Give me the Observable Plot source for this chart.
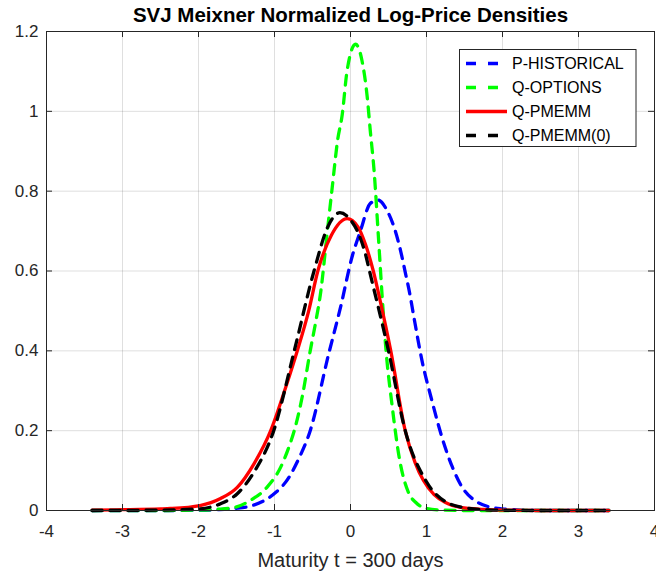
<!DOCTYPE html>
<html><head><meta charset="utf-8">
<script src="https://cdn.jsdelivr.net/npm/d3@7"></script>
<script src="https://cdn.jsdelivr.net/npm/@observablehq/plot@0.6"></script>
<style>
body{margin:0;background:#fff;}
svg{display:block}
</style>
</head><body><div id="chart"></div>
<script>
const titleText = "SVJ Meixner Normalized Log-Price Densities";
const xLabelText = "Maturity t = 300 days";
const xTicks = [-4, -3, -2, -1, 0, 1, 2, 3, 4];
const yTicks = [0, 0.2, 0.4, 0.6, 0.8, 1, 1.2];
const seriesNames = ["P-HISTORICAL", "Q-OPTIONS", "Q-PMEMM", "Q-PMEMM(0)"];
const seriesColors = ["#0000ff", "#00ff00", "#ff0000", "#000000"];
const seriesDashed = [true, true, false, true];

// P-HISTORICAL (blue dashed)
const pHistX = [-3.4, -2.5, -2, -1.75, -1.53, -1.29, -1.03, -0.81, -0.68, -0.53, -0.29, -0.13, 0.02, 0.13, 0.26, 0.36, 0.48, 0.59, 0.66, 0.72, 0.78, 0.83, 0.94, 1.07, 1.23, 1.34, 1.47, 1.67, 1.85, 2.0, 2.25, 2.5, 3.4];
const pHistY = [0, 0, 0.0005, 0.002, 0.005, 0.0125, 0.038, 0.083, 0.13, 0.2, 0.39, 0.51, 0.635, 0.70, 0.769, 0.778, 0.752, 0.70, 0.65, 0.597, 0.543, 0.489, 0.376, 0.276, 0.167, 0.109, 0.058, 0.021, 0.008, 0.004, 0.001, 0, 0];

// Q-OPTIONS (green dashed)
const qOptX = [-3.4, -2.5, -2, -1.75, -1.53, -1.32, -1.1, -0.92, -0.81, -0.74, -0.63, -0.53, -0.46, -0.39, -0.31, -0.24, -0.17, -0.11, -0.044, 0.066, 0.15, 0.22, 0.26, 0.31, 0.37, 0.42, 0.46, 0.55, 0.64, 0.77, 0.86, 1.0, 1.2, 1.5, 2, 3.4];
const qOptY = [0, 0, 0.001, 0.003, 0.0075, 0.025, 0.058, 0.108, 0.159, 0.2, 0.29, 0.4, 0.47, 0.55, 0.69, 0.81, 0.927, 0.99, 1.103, 1.168, 1.128, 1.036, 0.952, 0.852, 0.677, 0.526, 0.418, 0.259, 0.134, 0.042, 0.02, 0.005, 0.001, 0, 0, 0];

// Q-PMEMM (red solid)
const qPmX = [-3.4, -3, -2.5, -2.37, -1.98, -1.71, -1.49, -1.27, -1.05, -0.85, -0.70, -0.55, -0.43, -0.25, -0.044, 0.1, 0.2, 0.3, 0.39, 0.53, 0.72, 0.85, 0.96, 1.1, 1.25, 1.45, 1.75, 2.0, 2.5, 3.4];
const qPmY = [0.001, 0.002, 0.004, 0.005, 0.0125, 0.03, 0.058, 0.117, 0.2, 0.31, 0.4, 0.5, 0.6, 0.69, 0.731, 0.71, 0.665, 0.6, 0.526, 0.4, 0.2, 0.12, 0.075, 0.04, 0.02, 0.008, 0.003, 0.001, 0, 0];

// Q-PMEMM(0) (black dashed)
const qPm0X = [-3.4, -2.5, -2, -1.71, -1.49, -1.27, -1.01, -0.74, -0.48, -0.3, -0.14, 0, 0.09, 0.2, 0.25, 0.5, 0.72, 1.0, 1.25, 1.5, 1.75, 2, 2.5, 3.4];
const qPm0Y = [0, 0.001, 0.004, 0.017, 0.042, 0.096, 0.2, 0.4, 0.6, 0.71, 0.746, 0.728, 0.70, 0.64, 0.6, 0.4, 0.2, 0.072, 0.022, 0.007, 0.002, 0.0005, 0, 0];

const seriesX = [pHistX, qOptX, qPmX, qPm0X];
const seriesY = [pHistY, qOptY, qPmY, qPm0Y];

const W = 656, H = 577;
const mL = 46, mR = 2, mT = 31, mB = 67;
const innerW = W - mL - mR, innerH = H - mT - mB;
const tickLen = 6;
const axisColor = "#262626";

const lineMarks = seriesNames.map((name, i) => {
  const rows = seriesX[i].map((x, j) => ({series: name, x, y: seriesY[i][j]}));
  return Plot.line(rows, {
    x: "x", y: "y",
    stroke: seriesColors[i],
    strokeWidth: 3.3,
    strokeDasharray: seriesDashed[i] ? "10,8" : null,
    curve: "monotone-x"
  });
});

const chart = Plot.plot({
  width: W, height: H,
  marginLeft: mL, marginRight: mR, marginTop: mT, marginBottom: mB,
  style: {fontFamily: "'Liberation Sans', Arial, sans-serif", fontSize: "17px", color: axisColor, background: "#fff"},
  x: {domain: [-4, 4]},
  y: {domain: [0, 1.2]},
  marks: [
    Plot.gridX(xTicks, {stroke: axisColor, strokeOpacity: 0.15, strokeWidth: 1}),
    Plot.gridY(yTicks, {stroke: axisColor, strokeOpacity: 0.15, strokeWidth: 1}),
    ...lineMarks,
    Plot.frame({stroke: axisColor, strokeWidth: 1}),
    Plot.tickX(xTicks, {x: d => d, insetTop: innerH - tickLen, stroke: axisColor}),
    Plot.tickX(xTicks, {x: d => d, insetBottom: innerH - tickLen, stroke: axisColor}),
    Plot.tickY(yTicks, {y: d => d, insetRight: innerW - tickLen, stroke: axisColor}),
    Plot.tickY(yTicks, {y: d => d, insetLeft: innerW - tickLen, stroke: axisColor}),
    Plot.axisX({anchor: "bottom", ticks: xTicks, tickSize: 0, tickPadding: 14, tickFormat: d => String(d), label: null, fontSize: 17}),
    Plot.axisY({anchor: "left", ticks: yTicks, tickSize: 0, tickPadding: 8, tickFormat: d => String(d), label: null, fontSize: 17}),
    Plot.text([titleText], {frameAnchor: "top", lineAnchor: "middle", dy: -16, fontSize: 20.5, fontWeight: "bold", fill: "#000"}),
    Plot.text([xLabelText], {frameAnchor: "bottom", lineAnchor: "middle", dy: 50, fontSize: 20, fill: axisColor})
  ]
});

document.getElementById("chart").appendChild(chart);

// Legend box inside the axes (top-right)
const svg = d3.select(chart);
const lg = svg.append("g").attr("class", "legend");
const boxX = 459.5, boxY = 49.5, boxW = 176.5, boxH = 97;
lg.append("rect").attr("x", boxX).attr("y", boxY).attr("width", boxW).attr("height", boxH)
  .attr("fill", "#fff").attr("stroke", axisColor).attr("stroke-width", 1);
seriesNames.forEach((name, i) => {
  const cy = 63.5 + i * 24;
  lg.append("line").attr("x1", 466).attr("x2", 507).attr("y1", cy).attr("y2", cy)
    .attr("stroke", seriesColors[i]).attr("stroke-width", 3.3)
    .attr("stroke-dasharray", seriesDashed[i] ? "10,12" : null);
  lg.append("text").attr("x", 512).attr("y", cy).attr("dy", "0.36em")
    .attr("text-anchor", "start")
    .attr("font-size", 16).attr("fill", "#000").text(name);
});
</script>
</body></html>
